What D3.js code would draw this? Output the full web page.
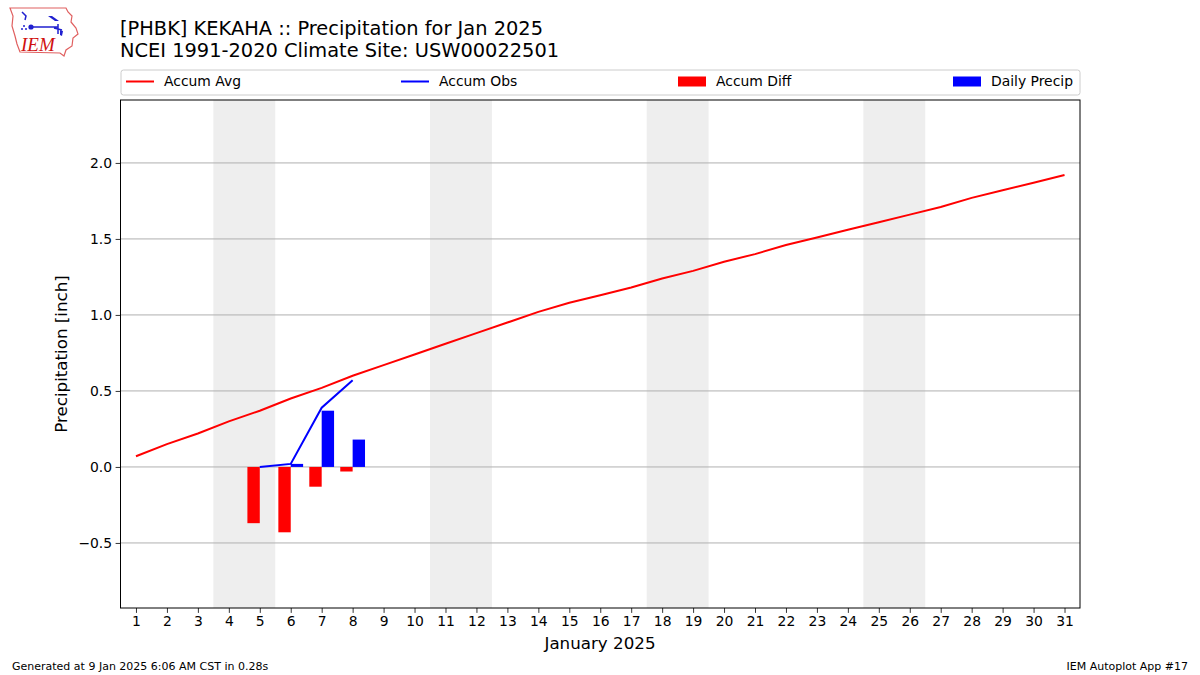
<!DOCTYPE html>
<html><head><meta charset="utf-8">
<script src="https://cdn.jsdelivr.net/npm/d3@7"></script>
<style>body{margin:0;background:#fff;} svg{display:block;font-family:"DejaVu Sans",sans-serif;}</style>
</head><body>
<svg id="c" width="1200" height="675"></svg>
<script>
const days = d3.range(1, 32);
const accumAvg = [0.07,0.15,0.22,0.30,0.37,0.45,0.52,0.60,0.67,0.74,0.81,0.88,0.95,1.02,1.08,1.13,1.18,1.24,1.29,1.35,1.40,1.46,1.51,1.56,1.61,1.66,1.71,1.77,1.82,1.87,1.92];
const obsDays = [5, 6, 7, 8];
const accumObs = [0.00, 0.02, 0.39, 0.57];
const accumDiff = [-0.37, -0.43, -0.13, -0.03];
const dailyPrecip = [0.00, 0.02, 0.37, 0.18];
const weekends = [[3.5,5.5],[10.5,12.5],[17.5,19.5],[24.5,26.5]];
const yTicks = [-0.5, 0.0, 0.5, 1.0, 1.5, 2.0];
const legendItems = [
  {label:"Accum Avg", type:"line", color:"#ff0000"},
  {label:"Accum Obs", type:"line", color:"#0000ff"},
  {label:"Accum Diff", type:"rect", color:"#ff0000"},
  {label:"Daily Precip", type:"rect", color:"#0000ff"}
];

const svg = d3.select("#c");
const L = 120.5, R = 1080, T = 100, B = 608;
const x = d3.scaleLinear().domain([0.5, 31.5]).range([L, R]);
const y = d3.scaleLinear().domain([-0.928, 2.414]).range([B, T]);

svg.append("g").selectAll("rect").data(weekends).join("rect")
  .attr("x", d => x(d[0])).attr("width", d => x(d[1]) - x(d[0]))
  .attr("y", T).attr("height", B - T).attr("fill", "#eeeeee");

svg.append("g").selectAll("line").data(yTicks).join("line")
  .attr("x1", L).attr("x2", R).attr("y1", d => y(d)).attr("y2", d => y(d))
  .attr("stroke", "#b0b0b0").attr("stroke-width", 1);

const bw = 0.4;
svg.append("g").selectAll("rect").data(obsDays.map((d,i)=>({d, v:accumDiff[i]}))).join("rect")
  .attr("x", o => x(o.d - bw)).attr("width", o => x(o.d) - x(o.d - bw))
  .attr("y", o => y(Math.max(0, o.v))).attr("height", o => Math.abs(y(o.v) - y(0)))
  .attr("fill", "#ff0000");
svg.append("g").selectAll("rect").data(obsDays.map((d,i)=>({d, v:dailyPrecip[i]}))).join("rect")
  .attr("x", o => x(o.d)).attr("width", o => x(o.d + bw) - x(o.d))
  .attr("y", o => y(Math.max(0, o.v))).attr("height", o => Math.abs(y(o.v) - y(0)))
  .attr("fill", "#0000ff");

const line = d3.line().x(d => x(d[0])).y(d => y(d[1]));
svg.append("path").datum(days.map((d,i)=>[d, accumAvg[i]])).attr("d", line)
  .attr("fill", "none").attr("stroke", "#ff0000").attr("stroke-width", 2);
svg.append("path").datum(obsDays.map((d,i)=>[d, accumObs[i]])).attr("d", line)
  .attr("fill", "none").attr("stroke", "#0000ff").attr("stroke-width", 2);

svg.append("rect").attr("x", L).attr("y", T).attr("width", R-L).attr("height", B-T)
  .attr("fill", "none").attr("stroke", "#000").attr("stroke-width", 1);

const xAxis = svg.append("g").attr("transform", `translate(0,${B})`)
  .call(d3.axisBottom(x).tickValues(days).tickSize(4.9).tickPadding(3.5).tickFormat(d3.format("d")));
const yAxis = svg.append("g").attr("transform", `translate(${L},0)`)
  .call(d3.axisLeft(y).tickValues(yTicks).tickSize(4.9).tickPadding(3.5).tickFormat(d3.format(".1f")));
[xAxis, yAxis].forEach(g => {
  g.select(".domain").remove();
  g.selectAll("text").attr("font-size", 13.9).attr("font-family", "DejaVu Sans").attr("fill", "#000");
  g.selectAll("line").attr("stroke", "#000").attr("stroke-width", 0.8);
});
yAxis.selectAll("text").text(d => d < 0 ? "\u2212" + Math.abs(d).toFixed(1) : d.toFixed(1));

svg.append("text").attr("x", 600).attr("y", 649).attr("text-anchor", "middle")
  .attr("font-size", 16.7).text("January 2025");
svg.append("text").attr("transform", `translate(67,354) rotate(-90)`).attr("text-anchor", "middle")
  .attr("font-size", 16.7).text("Precipitation [inch]");

svg.append("text").attr("x", 120).attr("y", 35).attr("font-size", 19.4).text("[PHBK] KEKAHA :: Precipitation for Jan 2025");
svg.append("text").attr("x", 120).attr("y", 57).attr("font-size", 19.4).text("NCEI 1991-2020 Climate Site: USW00022501");

svg.append("rect").attr("x", 121).attr("y", 70).attr("width", 959).attr("height", 25)
  .attr("rx", 2.5).attr("fill", "#fff").attr("stroke", "#cccccc").attr("stroke-width", 1);
const lgX = [126, 401, 678, 953];
const lg = svg.append("g").selectAll("g").data(legendItems).join("g")
  .attr("transform", (d,i) => `translate(${lgX[i]},81.5)`);
lg.filter(d => d.type === "line").append("line").attr("x1", 0).attr("x2", 28)
  .attr("stroke", d => d.color).attr("stroke-width", 2);
lg.filter(d => d.type === "rect").append("rect").attr("x", 0).attr("y", -5).attr("width", 28).attr("height", 10)
  .attr("fill", d => d.color);
lg.append("text").attr("x", 38).attr("y", 4.8).attr("font-size", 13.9).text(d => d.label);

svg.append("text").attr("x", 12).attr("y", 670).attr("font-size", 11).text("Generated at 9 Jan 2025 6:06 AM CST in 0.28s");
svg.append("text").attr("x", 1188).attr("y", 670).attr("font-size", 11).attr("text-anchor", "end").text("IEM Autoplot App #17");

// logo (approximate)
const logo = svg.append("g");
logo.append("path").attr("d", "M10,8 L66,8 L68,12 L72,16 L71,22 L76,28 L78,34 L73,38 L72,46 L66,50 L64,56 L60,53 L20,52 L17,44 L15,36 L12,26 L13,16 Z")
  .attr("fill", "#fff").attr("stroke", "#e06060").attr("stroke-width", 1.2);
const blue = "#2020d0";
logo.append("path").attr("d", "M31,27 L58,27 M58,24 L58,34 M54,28 L62,30 M22,12 L26,16 L25,20")
  .attr("fill", "none").attr("stroke", blue).attr("stroke-width", 1.5);
logo.append("circle").attr("cx", 31).attr("cy", 27).attr("r", 2.6).attr("fill", blue);
logo.append("path").attr("d", "M48,16 L52,16 L59,21 L55,21 Z").attr("fill", blue);
logo.append("path").attr("d", "M60,30 L63,31 L62,36 L60,35 Z").attr("fill", blue);
logo.append("circle").attr("cx", 24).attr("cy", 26).attr("r", 1).attr("fill", blue);
logo.append("circle").attr("cx", 22).attr("cy", 29).attr("r", 1).attr("fill", blue);
logo.append("circle").attr("cx", 26).attr("cy", 29).attr("r", 1).attr("fill", blue);
logo.append("text").attr("x", 21).attr("y", 51).attr("font-family", "Liberation Serif, serif").attr("font-style", "italic")
  .attr("font-size", 19).attr("fill", "#d01010").text("IEM");
</script>
</body></html>
